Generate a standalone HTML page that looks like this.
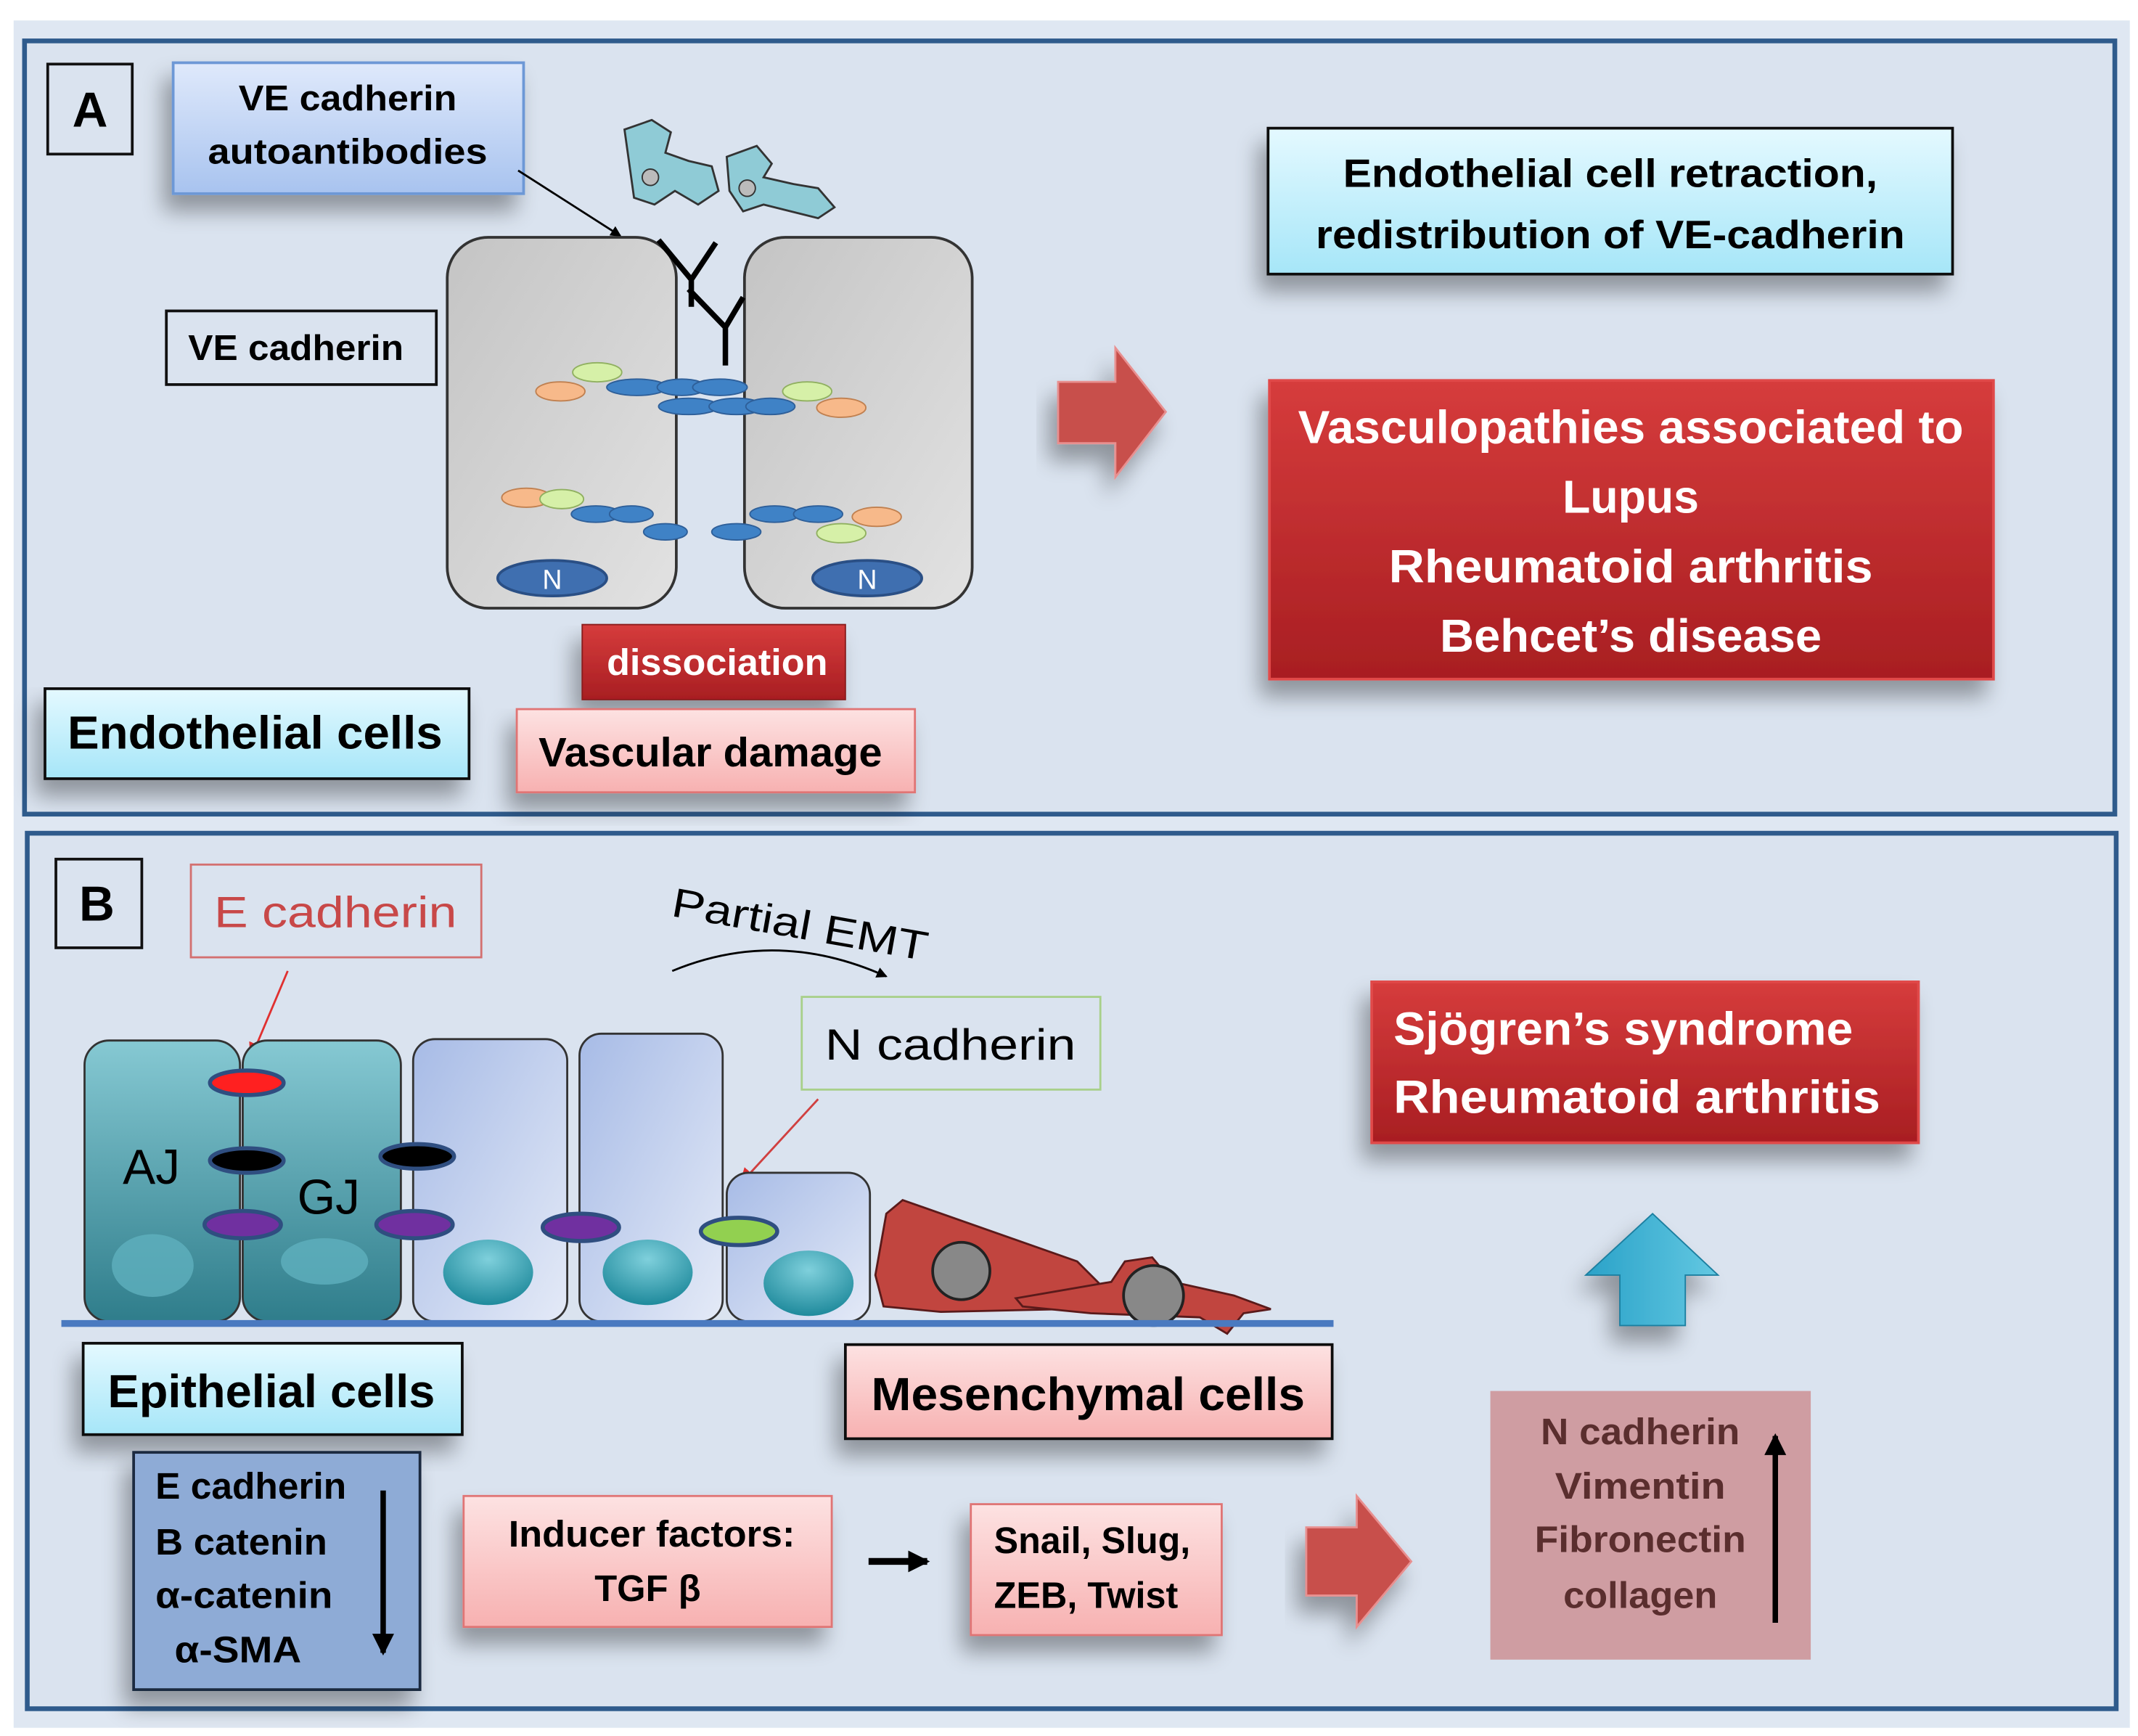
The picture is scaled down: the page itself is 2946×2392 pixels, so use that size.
<!DOCTYPE html>
<html><head><meta charset="utf-8"><style>
html,body{margin:0;padding:0;background:#fff;}
svg{display:block;}
text{font-family:"Liberation Sans",sans-serif;font-weight:bold;}
</style></head><body>
<svg width="2946" height="2392" viewBox="0 0 1568 1273" preserveAspectRatio="none" xmlns="http://www.w3.org/2000/svg">
<defs>
<linearGradient id="gray" x1="0" y1="0" x2="1" y2="1"><stop offset="0" stop-color="#c4c4c4"/><stop offset="1" stop-color="#e2e2e2"/></linearGradient>
<linearGradient id="vebox" x1="0" y1="0" x2="0" y2="1"><stop offset="0" stop-color="#dfe9fb"/><stop offset="1" stop-color="#a8c3ef"/></linearGradient>
<linearGradient id="cyan" x1="0" y1="0" x2="0" y2="1"><stop offset="0" stop-color="#e4f9ff"/><stop offset="1" stop-color="#a6e6f8"/></linearGradient>
<linearGradient id="red" x1="0" y1="0" x2="0" y2="1"><stop offset="0" stop-color="#d63c3c"/><stop offset="1" stop-color="#a81e22"/></linearGradient>
<linearGradient id="pink" x1="0" y1="0" x2="0" y2="1"><stop offset="0" stop-color="#fde2e2"/><stop offset="1" stop-color="#f7b1b1"/></linearGradient>
<linearGradient id="teal" x1="0" y1="0" x2="0" y2="1"><stop offset="0" stop-color="#86c9d3"/><stop offset="1" stop-color="#2f7d8b"/></linearGradient>
<linearGradient id="lav" x1="0" y1="0" x2="1" y2="1"><stop offset="0" stop-color="#a7bbe6"/><stop offset="1" stop-color="#e4eaf7"/></linearGradient>
<radialGradient id="nuc" cx="0.5" cy="0.3" r="0.7"><stop offset="0" stop-color="#7fd0dc"/><stop offset="1" stop-color="#1f8a9c"/></radialGradient>
<linearGradient id="cyarrow" x1="0" y1="0" x2="1" y2="0"><stop offset="0" stop-color="#2aa2c8"/><stop offset="1" stop-color="#63c8e2"/></linearGradient>
<filter id="sh" x="-20%" y="-20%" width="150%" height="160%"><feGaussianBlur in="SourceAlpha" stdDeviation="8"/><feOffset dx="-6" dy="12"/><feComponentTransfer><feFuncA type="linear" slope="0.35"/></feComponentTransfer><feMerge><feMergeNode/><feMergeNode in="SourceGraphic"/></feMerge></filter>
<marker id="ah" markerWidth="8" markerHeight="8" refX="7" refY="4" orient="auto" markerUnits="userSpaceOnUse"><path d="M0,0 L8,4 L0,8 z" fill="#000"/></marker>
<marker id="ahr" markerWidth="12" markerHeight="12" refX="11" refY="6" orient="auto" markerUnits="userSpaceOnUse"><path d="M0,0 L12,6 L0,12 z" fill="#e03030"/></marker>
<marker id="ahb" markerWidth="16" markerHeight="16" refX="14" refY="8" orient="auto" markerUnits="userSpaceOnUse"><path d="M0,0 L16,8 L0,16 z" fill="#000"/></marker>
</defs>
<rect x="0" y="0" width="1568" height="1273" fill="#fff"/>
<rect x="10" y="15" width="1552" height="1252" fill="#dfe7f2"/>
<rect x="18" y="30" width="1533" height="567" fill="#dae3ef" stroke="#2f5b8c" stroke-width="3.5"/>
<rect x="20" y="611" width="1532" height="642" fill="#dae3ef" stroke="#2f5b8c" stroke-width="3.5"/>

<!-- Panel A -->
<rect x="35" y="47" width="62" height="66" fill="none" stroke="#111" stroke-width="2"/>
<text x="66" y="93" font-size="36" text-anchor="middle">A</text>
<rect x="127" y="46" width="257" height="96" fill="url(#vebox)" stroke="#6d98d6" stroke-width="2" filter="url(#sh)"/>
<text x="255" y="81" font-size="26" text-anchor="middle" textLength="160" lengthAdjust="spacingAndGlyphs">VE cadherin</text>
<text x="255" y="120" font-size="26" text-anchor="middle" textLength="205" lengthAdjust="spacingAndGlyphs">autoantibodies</text>
<rect x="122" y="228" width="198" height="54" fill="#dae3ef" stroke="#111" stroke-width="2"/>
<text x="217" y="264" font-size="26" text-anchor="middle" textLength="158" lengthAdjust="spacingAndGlyphs">VE cadherin</text>
<line x1="380" y1="125" x2="455" y2="173" stroke="#000" stroke-width="1.5" marker-end="url(#ah)"/>
<!-- floating cells -->
<g fill="#8fcbd6" stroke="#333" stroke-width="1.5">
<path d="M458,95 L478,88 L492,97 L488,112 L505,118 L522,122 L527,140 L512,150 L495,140 L480,150 L465,145 Z"/>
<path d="M533,115 L555,107 L566,120 L560,130 L582,135 L600,138 L612,152 L600,160 L580,155 L560,150 L545,155 L535,140 Z"/>
</g>
<circle cx="477" cy="130" r="6" fill="#bbb" stroke="#333"/>
<circle cx="548" cy="138" r="6" fill="#bbb" stroke="#333"/>
<!-- endothelial cells -->
<rect x="328" y="174" width="168" height="272" rx="30" fill="url(#gray)" stroke="#333" stroke-width="2"/>
<rect x="546" y="174" width="167" height="272" rx="30" fill="url(#gray)" stroke="#333" stroke-width="2"/>
<g stroke="#000" stroke-width="4" fill="none">
<path d="M483,176 L507,205 L525,178 M507,205 L507,225"/>
<path d="M505,212 L532,240 L545,218 M532,240 L532,268"/>
</g>
<g stroke="#2e5f99" stroke-width="1" fill="#3f82c6">
<ellipse cx="467" cy="284" rx="22" ry="6"/><ellipse cx="500" cy="284" rx="18" ry="6"/><ellipse cx="528" cy="284" rx="20" ry="6"/>
<ellipse cx="505" cy="298" rx="22" ry="6"/><ellipse cx="540" cy="298" rx="20" ry="6"/><ellipse cx="565" cy="298" rx="18" ry="6"/>
<ellipse cx="437" cy="377" rx="18" ry="6"/><ellipse cx="463" cy="377" rx="16" ry="6"/><ellipse cx="488" cy="390" rx="16" ry="6"/>
<ellipse cx="540" cy="390" rx="18" ry="6"/><ellipse cx="568" cy="377" rx="18" ry="6"/><ellipse cx="600" cy="377" rx="18" ry="6"/>
</g>
<g stroke="#c08050" stroke-width="1" fill="#f7b98a">
<ellipse cx="411" cy="287" rx="18" ry="7"/><ellipse cx="617" cy="299" rx="18" ry="7"/><ellipse cx="386" cy="365" rx="18" ry="7"/><ellipse cx="643" cy="379" rx="18" ry="7"/>
</g>
<g stroke="#90b060" stroke-width="1" fill="#d6f0a8">
<ellipse cx="438" cy="273" rx="18" ry="7"/><ellipse cx="592" cy="287" rx="18" ry="7"/><ellipse cx="412" cy="366" rx="16" ry="7"/><ellipse cx="617" cy="391" rx="18" ry="7"/>
</g>
<ellipse cx="405" cy="424" rx="40" ry="13" fill="#3f6fb0" stroke="#2a4f85" stroke-width="2"/>
<text x="405" y="432" font-size="20" fill="#fff" font-weight="normal" text-anchor="middle" style="font-weight:normal">N</text>
<ellipse cx="636" cy="424" rx="40" ry="13" fill="#3f6fb0" stroke="#2a4f85" stroke-width="2"/>
<text x="636" y="432" font-size="20" fill="#fff" text-anchor="middle" style="font-weight:normal">N</text>
<rect x="427" y="458" width="193" height="55" fill="url(#red)" stroke="#8a1a1a" stroke-width="1" filter="url(#sh)"/>
<text x="526" y="495" font-size="27" fill="#fff" text-anchor="middle" textLength="162" lengthAdjust="spacingAndGlyphs">dissociation</text>
<rect x="379" y="520" width="292" height="61" fill="url(#pink)" stroke="#e07575" stroke-width="1.5" filter="url(#sh)"/>
<text x="521" y="562" font-size="30" text-anchor="middle" textLength="252" lengthAdjust="spacingAndGlyphs">Vascular  damage</text>
<rect x="33" y="505" width="311" height="66" fill="url(#cyan)" stroke="#111" stroke-width="2" filter="url(#sh)"/>
<text x="187" y="549" font-size="34" text-anchor="middle" textLength="275" lengthAdjust="spacingAndGlyphs">Endothelial cells</text>
<path d="M776,280 L818,280 L818,255 L855,302 L818,350 L818,325 L776,325 Z" fill="#c8504c" stroke="#e89090" stroke-width="1.5" filter="url(#sh)"/>
<rect x="930" y="94" width="502" height="107" fill="url(#cyan)" stroke="#111" stroke-width="2" filter="url(#sh)"/>
<text x="1181" y="137" font-size="29" text-anchor="middle" textLength="392" lengthAdjust="spacingAndGlyphs">Endothelial  cell retraction,</text>
<text x="1181" y="182" font-size="29" text-anchor="middle" textLength="432" lengthAdjust="spacingAndGlyphs">redistribution  of VE-cadherin</text>
<rect x="931" y="279" width="531" height="219" fill="url(#red)" stroke="#e04a4a" stroke-width="2" filter="url(#sh)"/>
<g fill="#fff" font-size="34" text-anchor="middle">
<text x="1196" y="325" textLength="488" lengthAdjust="spacingAndGlyphs">Vasculopathies associated to</text>
<text x="1196" y="376" textLength="100" lengthAdjust="spacingAndGlyphs">Lupus</text>
<text x="1196" y="427" textLength="355" lengthAdjust="spacingAndGlyphs">Rheumatoid arthritis</text>
<text x="1196" y="478" textLength="280" lengthAdjust="spacingAndGlyphs">Behcet’s disease</text>
</g>

<!-- Panel B -->
<rect x="41" y="630" width="63" height="65" fill="none" stroke="#111" stroke-width="2"/>
<text x="71" y="675" font-size="36" text-anchor="middle">B</text>
<rect x="140" y="634" width="213" height="68" fill="#dae3ef" stroke="#d37070" stroke-width="1.5"/>
<text x="246" y="680" font-size="32" fill="#c84848" text-anchor="middle" style="font-weight:normal" textLength="178" lengthAdjust="spacingAndGlyphs">E cadherin</text>
<line x1="211" y1="712" x2="184" y2="776" stroke="#e03030" stroke-width="1.5" marker-end="url(#ahr)"/>
<text x="585" y="688" font-size="30" text-anchor="middle" style="font-weight:normal" transform="rotate(10 585 688)" textLength="190" lengthAdjust="spacingAndGlyphs">Partial EMT</text>
<path d="M493,712 Q570,680 650,716" fill="none" stroke="#000" stroke-width="1.5" marker-end="url(#ah)"/>
<rect x="588" y="731" width="219" height="68" fill="#dae3ef" stroke="#a8d08a" stroke-width="1.5"/>
<text x="697" y="777" font-size="32" text-anchor="middle" style="font-weight:normal" textLength="184" lengthAdjust="spacingAndGlyphs">N cadherin</text>
<line x1="600" y1="806" x2="543" y2="868" stroke="#d04040" stroke-width="1.5" marker-end="url(#ahr)"/>
<!-- epithelial -->
<rect x="62" y="763" width="114" height="206" rx="18" fill="url(#teal)" stroke="#333" stroke-width="1.5"/>
<rect x="178" y="763" width="116" height="206" rx="18" fill="url(#teal)" stroke="#333" stroke-width="1.5"/>
<rect x="303" y="762" width="113" height="207" rx="16" fill="url(#lav)" stroke="#333" stroke-width="1.5"/>
<rect x="425" y="758" width="105" height="211" rx="16" fill="url(#lav)" stroke="#333" stroke-width="1.5"/>
<rect x="533" y="860" width="105" height="109" rx="16" fill="url(#lav)" stroke="#333" stroke-width="1.5"/>
<ellipse cx="112" cy="928" rx="30" ry="23" fill="#5fb0be" opacity="0.8"/>
<ellipse cx="238" cy="925" rx="32" ry="17" fill="#5fb0be" opacity="0.8"/>
<ellipse cx="358" cy="933" rx="33" ry="24" fill="url(#nuc)"/>
<ellipse cx="475" cy="933" rx="33" ry="24" fill="url(#nuc)"/>
<ellipse cx="593" cy="941" rx="33" ry="24" fill="url(#nuc)"/>
<g stroke="#2f4e80" stroke-width="3">
<ellipse cx="181" cy="794" rx="27" ry="9" fill="#ff2020"/>
<ellipse cx="181" cy="851" rx="27" ry="9" fill="#000"/>
<ellipse cx="306" cy="848" rx="27" ry="9" fill="#000"/>
<ellipse cx="178" cy="898" rx="28" ry="10" fill="#7030a0"/>
<ellipse cx="304" cy="898" rx="28" ry="10" fill="#7030a0"/>
<ellipse cx="426" cy="900" rx="28" ry="10" fill="#7030a0"/>
<ellipse cx="542" cy="903" rx="28" ry="10" fill="#92d050"/>
</g>
<text x="111" y="868" font-size="36" style="font-weight:normal" text-anchor="middle">AJ</text>
<text x="241" y="890" font-size="36" style="font-weight:normal" text-anchor="middle">GJ</text>
<!-- mesenchymal -->
<path d="M650,890 L662,880 L790,925 L810,945 L815,955 L780,960 L690,962 L648,958 L642,935 Z" fill="#c1453f" stroke="#5a1a1a" stroke-width="1.5"/>
<path d="M745,952 L815,940 L825,925 L845,922 L860,940 L905,950 L932,960 L912,963 L900,978 L880,966 L800,963 L750,958 Z" fill="#c1453f" stroke="#5a1a1a" stroke-width="1.5"/>
<circle cx="705" cy="932" r="21" fill="#888" stroke="#222" stroke-width="2"/>
<circle cx="846" cy="950" r="22" fill="#888" stroke="#222" stroke-width="2"/>
<rect x="45" y="968" width="933" height="5" fill="#4a7ac0"/>
<rect x="61" y="985" width="278" height="67" fill="url(#cyan)" stroke="#111" stroke-width="2" filter="url(#sh)"/>
<text x="199" y="1032" font-size="34" text-anchor="middle" textLength="240" lengthAdjust="spacingAndGlyphs">Epithelial cells</text>
<rect x="620" y="986" width="357" height="69" fill="url(#pink)" stroke="#111" stroke-width="2" filter="url(#sh)"/>
<text x="798" y="1034" font-size="34" text-anchor="middle" textLength="318" lengthAdjust="spacingAndGlyphs">Mesenchymal cells</text>
<rect x="98" y="1065" width="210" height="174" fill="#8eabd6" stroke="#1a2a40" stroke-width="2" filter="url(#sh)"/>
<g font-size="27">
<text x="114" y="1099" textLength="140" lengthAdjust="spacingAndGlyphs">E cadherin</text>
<text x="114" y="1140" textLength="126" lengthAdjust="spacingAndGlyphs">B catenin</text>
<text x="114" y="1179" textLength="130" lengthAdjust="spacingAndGlyphs">α-catenin</text>
<text x="128" y="1219" textLength="93" lengthAdjust="spacingAndGlyphs">α-SMA</text>
</g>
<line x1="281" y1="1093" x2="281" y2="1212" stroke="#000" stroke-width="4" marker-end="url(#ahb)"/>
<rect x="340" y="1097" width="270" height="96" fill="url(#pink)" stroke="#e07575" stroke-width="1.5" filter="url(#sh)"/>
<text x="478" y="1134" font-size="27" text-anchor="middle" textLength="210" lengthAdjust="spacingAndGlyphs">Inducer factors:</text>
<text x="475" y="1174" font-size="27" text-anchor="middle">TGF β</text>
<line x1="637" y1="1145" x2="680" y2="1145" stroke="#000" stroke-width="5" marker-end="url(#ahb)"/>
<rect x="712" y="1103" width="184" height="96" fill="url(#pink)" stroke="#e07575" stroke-width="1.5" filter="url(#sh)"/>
<text x="729" y="1139" font-size="27" textLength="144" lengthAdjust="spacingAndGlyphs">Snail, Slug,</text>
<text x="729" y="1179" font-size="27" textLength="135" lengthAdjust="spacingAndGlyphs">ZEB, Twist</text>
<path d="M958,1120 L995,1120 L995,1097 L1035,1145 L995,1193 L995,1170 L958,1170 Z" fill="#c8504c" stroke="#e89090" stroke-width="1.5" filter="url(#sh)"/>
<rect x="1093" y="1020" width="235" height="197" fill="#cf9da2"/>
<g font-size="27" fill="#5a2e2e" text-anchor="middle">
<text x="1203" y="1059" textLength="146" lengthAdjust="spacingAndGlyphs">N cadherin</text>
<text x="1203" y="1099" textLength="125" lengthAdjust="spacingAndGlyphs">Vimentin</text>
<text x="1203" y="1138" textLength="155" lengthAdjust="spacingAndGlyphs">Fibronectin</text>
<text x="1203" y="1179" textLength="113" lengthAdjust="spacingAndGlyphs">collagen</text>
</g>
<line x1="1302" y1="1190" x2="1302" y2="1053" stroke="#000" stroke-width="4" marker-end="url(#ahb)"/>
<path d="M1188,972 L1188,935 L1163,935 L1212,890 L1260,935 L1236,935 L1236,972 Z" fill="url(#cyarrow)" stroke="#1e7fa0" stroke-width="1" filter="url(#sh)"/>
<rect x="1006" y="720" width="401" height="118" fill="url(#red)" stroke="#e04a4a" stroke-width="2" filter="url(#sh)"/>
<text x="1022" y="766" font-size="34" fill="#fff" textLength="337" lengthAdjust="spacingAndGlyphs">Sjögren’s syndrome</text>
<text x="1022" y="816" font-size="34" fill="#fff" textLength="357" lengthAdjust="spacingAndGlyphs">Rheumatoid arthritis</text>
</svg>
</body></html>
